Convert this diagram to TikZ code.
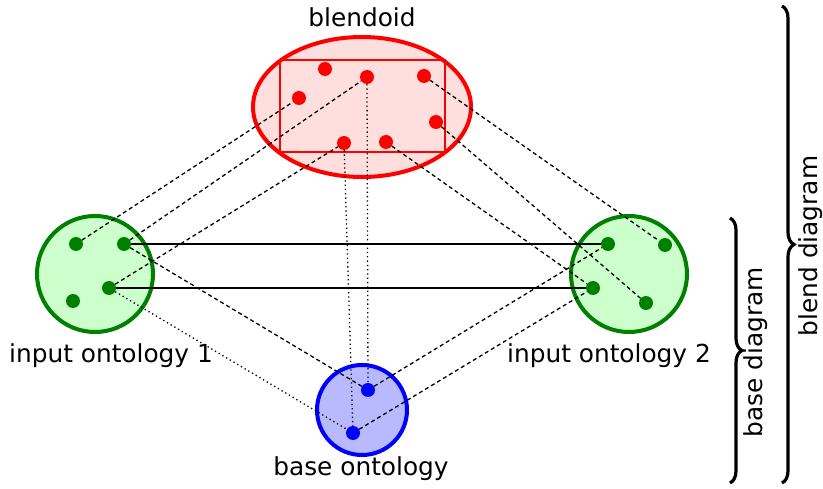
\documentclass[tikz,border=0pt]{standalone}
\usepackage{fontspec}
\setmainfont{DejaVu Sans}
\usetikzlibrary{shapes.geometric,decorations.pathreplacing}
\definecolor{pinkfill}{RGB}{255,222,222}
\definecolor{greenline}{RGB}{0,128,0}
\definecolor{greenfill}{RGB}{204,255,204}
\definecolor{bluefill}{RGB}{185,185,255}
\begin{document}
\begin{tikzpicture}[x=1pt,y=-1pt,
  dot/.style={circle,inner sep=0pt,minimum size=14pt,fill=#1},
  dsh/.style={line width=1.3pt,dash pattern=on 4pt off 3pt},
  dtt/.style={line width=1.3pt,dash pattern=on 1.3pt off 3pt},
  sol/.style={line width=1.3pt},
  lab/.style={font=\fontsize{24.8}{28}\selectfont,inner sep=0pt},
  blob/.style={circle,inner sep=0pt,line width=4pt},
  brc/.style={decorate,decoration={brace,amplitude=12pt},line width=3.2pt}]
\useasboundingbox (0,0) rectangle (823,489);
% big shapes
\node[ellipse,draw=red,fill=pinkfill,line width=4pt,inner sep=0pt,
      minimum width=218pt,minimum height=140pt] (blendoid) at (362,107) {};
\node[draw=red,line width=1.4pt,inner sep=0pt,minimum width=165pt,minimum height=92pt] (frame) at (362.5,106) {};
\node[blob,draw=greenline,fill=greenfill,minimum size=116pt] (in1) at (95,274) {};
\node[blob,draw=greenline,fill=greenfill,minimum size=116pt] (in2) at (629,274) {};
\node[blob,draw=blue,fill=bluefill,minimum size=90pt] (base) at (362,410) {};
% labels
\node[lab] (lblend) at (362,17) {blendoid};
\node[lab] (lin1) at (111,356) {input ontology 1};
\node[lab] (lin2) at (609,356) {input ontology 2};
\node[lab] (lbase) at (361,469) {base ontology};
% dots
\node[dot=red] (r1) at (325,69) {};
\node[dot=red] (r2) at (367,77) {};
\node[dot=red] (r3) at (299,98) {};
\node[dot=red] (r4) at (424,76) {};
\node[dot=red] (r5) at (436,122) {};
\node[dot=red] (r6) at (344,143) {};
\node[dot=red] (r7) at (386,142) {};
\node[dot=greenline] (a1) at (76,244) {};
\node[dot=greenline] (a2) at (124,244) {};
\node[dot=greenline] (a3) at (109,288) {};
\node[dot=greenline] (a4) at (73,301) {};
\node[dot=greenline] (b1) at (608,244) {};
\node[dot=greenline] (b2) at (665,245) {};
\node[dot=greenline] (b3) at (593,288) {};
\node[dot=greenline] (b4) at (646,303) {};
\node[dot=blue] (c1) at (368,390) {};
\node[dot=blue] (c2) at (353,433) {};
% connectors
\draw[sol] (a2) -- (b1);
\draw[sol] (a3) -- (b3);
\draw[dsh] (a1) -- (r3);
\draw[dsh] (a2) -- (r2);
\draw[dsh] (a3) -- (r6);
\draw[dsh] (r4) -- (b2);
\draw[dsh] (r5) -- (b4);
\draw[dsh] (r7) -- (b3);
\draw[dsh] (a2) -- (c1);
\draw[dtt] (a3) -- (c2);
\draw[dsh] (c1) -- (b1);
\draw[dsh] (c2) -- (b3);
\draw[dtt] (r6) -- (c2);
\draw[dtt] (r2) -- (c1);
% braces
\coordinate (bt) at (730,218);
\coordinate (bb) at (730,483);
\coordinate (gt) at (782,6);
\coordinate (gb) at (782,483);
\draw[brc] (bt) -- (bb);
\draw[brc] (gt) -- (gb);
\node[lab,rotate=90] (lbd) at (756,352) {base diagram};
\node[lab,rotate=90] (lgd) at (811,246) {blend diagram};
\end{tikzpicture}
\end{document}
